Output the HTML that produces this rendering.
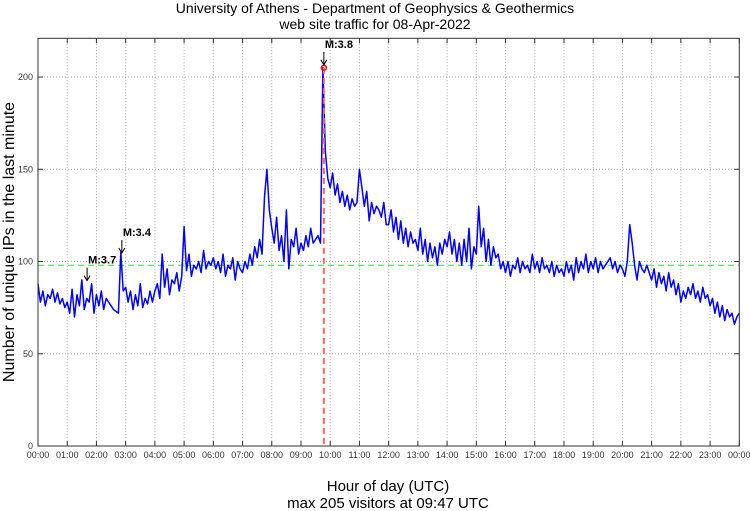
<!DOCTYPE html>
<html><head><meta charset="utf-8"><style>
body{margin:0;background:#fff;}
svg{display:block;font-family:"Liberation Sans",sans-serif;}
</style></head><body>
<svg id="chart" width="750" height="511" viewBox="0 0 750 511" xmlns="http://www.w3.org/2000/svg">
<rect width="750" height="511" fill="#fff"/>
<text x="375" y="13" font-size="14" text-anchor="middle" fill="#000">University of Athens - Department of Geophysics &amp; Geothermics</text>
<text x="375" y="29" font-size="14" text-anchor="middle" fill="#000">web site traffic for 08-Apr-2022</text>
<g id="grid"></g>
<g id="series"></g>
<g id="axes"></g>
<text x="388" y="491" font-size="15" text-anchor="middle" fill="#000">Hour of day (UTC)</text>
<text x="388" y="508" font-size="15" text-anchor="middle" fill="#000">max 205 visitors at 09:47 UTC</text>
<text transform="translate(14,242) rotate(-90)" font-size="16" text-anchor="middle" fill="#000">Number of unique IPs in the last minute</text>
</svg>
<script>
// data: visitors every 5 minutes (UTC), 288 samples + end
const values = [
88,78,84,76,82,80,85,78,83,77,80,75,
78,72,85,70,82,76,90,74,80,78,88,72,
82,76,84,74,80,78,76,74,73,72,105,84,
86,78,84,74,82,76,88,75,80,77,84,78,
84,88,80,104,86,96,82,90,88,94,84,92,
119,95,104,92,98,96,100,94,106,96,100,98,
102,96,100,94,104,92,98,96,102,90,100,96,
94,100,96,104,98,108,102,112,104,135,150,128,
118,110,124,106,114,100,128,96,112,108,118,104,
110,106,114,108,118,110,112,114,110,205,160,145,
140,148,136,142,132,138,130,136,128,134,130,132,
150,140,130,138,122,132,126,130,128,124,132,120,
120,128,116,124,112,122,110,118,108,116,110,112,
106,118,104,112,100,110,102,108,98,110,104,112,
108,116,104,112,100,110,98,112,100,118,96,108,
104,130,108,118,100,112,98,108,102,104,96,100,
94,100,92,98,96,102,94,100,96,98,94,104,
96,100,94,102,96,98,94,100,92,98,94,96,
92,100,94,98,90,102,94,100,96,104,94,100,
96,102,94,100,96,98,100,102,96,100,94,98,
96,92,100,120,110,98,90,100,96,94,98,94,
90,96,86,94,88,92,84,94,86,90,82,88,
78,84,80,86,82,88,80,84,78,86,80,82,
76,80,72,78,70,76,68,74,70,72,66,70,
72];
const stepMinutes = [5];
const yTicks = [0,50,100,150,200];
const xTickLabels = ["00:00","01:00","02:00","03:00","04:00","05:00","06:00","07:00","08:00","09:00","10:00","11:00","12:00","13:00","14:00","15:00","16:00","17:00","18:00","19:00","20:00","21:00","22:00","23:00","00:00"];
const meanLevel = [98];
const quakeTimes = [1.68, 2.87, 9.783];
const quakeLabels = ["M:3.7","M:3.4","M:3.8"];
const quakeValues = [88, 103, 205];

const L=38,R=739.3,T=38.3,B=446,YMAX=221;
const xs=h=>L+(R-L)*h/24;
const ys=v=>B-(B-T)*v/YMAX;
const NS="http://www.w3.org/2000/svg";
function mk(tag,attrs,parent){const e=document.createElementNS(NS,tag);for(const k in attrs)e.setAttribute(k,attrs[k]);parent.appendChild(e);return e;}
const grid=document.getElementById('grid'),axes=document.getElementById('axes'),series=document.getElementById('series');

xTickLabels.forEach((lab,i)=>{
  const x=xs(i);
  if(i>0&&i<24){const g=mk('line',{x1:x,x2:x,y1:T,y2:B,stroke:'#aaa','stroke-width':1,'stroke-dasharray':'1,2'},grid);
  
  }
  const t1=mk('line',{x1:x,x2:x,y1:B,y2:B-5,stroke:'#333'},axes);
  
  
  const t2=mk('line',{x1:x,x2:x,y1:T,y2:T+5,stroke:'#333'},axes);
  
  
  const tx=mk('text',{x:x,y:458,'font-size':9,'text-anchor':'middle',fill:'#333'},axes);
  tx.textContent=lab;
  
  
});
yTicks.forEach(v=>{
  const y=ys(v);
  if(v>0){const g=mk('line',{x1:L,x2:R,y1:y,y2:y,stroke:'#aaa','stroke-width':1,'stroke-dasharray':'1,2'},grid);
  
  }
  const t1=mk('line',{x1:L,x2:L+5,y1:y,y2:y,stroke:'#333'},axes);
  
  
  const t2=mk('line',{x1:R,x2:R-5,y1:y,y2:y,stroke:'#333'},axes);
  
  
  const tx=mk('text',{x:L-5,y:y+3,'font-size':9,'text-anchor':'end',fill:'#333'},axes);
  tx.textContent=v;
  
  
});
const frame=mk('rect',{x:L,y:T,width:R-L,height:B-T,fill:'none',stroke:'#333'},axes);



const ml=mk('line',{x1:L,x2:R,y1:ys(meanLevel[0]),y2:ys(meanLevel[0]),stroke:'#33dd33','stroke-dasharray':'6,4'},series);



let d='';
values.forEach((v,i)=>{const h=i*stepMinutes[0]/60;d+=(i?'L':'M')+xs(h).toFixed(1)+','+ys(v).toFixed(1);});
const p=mk('path',{d:d,fill:'none',stroke:'#0000ff','stroke-width':1.5,'stroke-linejoin':'round'},series);



const mx=xs(quakeTimes[2]);
const vl=mk('line',{x1:mx,x2:mx,y1:ys(quakeValues[2]),y2:B,stroke:'#ff6666','stroke-width':2,'stroke-dasharray':'6,4'},series);


const c=mk('circle',{cx:mx,cy:ys(quakeValues[2]),r:2.5,fill:'none',stroke:'#ff0000','stroke-width':1.5},series);



quakeTimes.forEach((h,i)=>{
  const x=xs(h),y=ys(quakeValues[i]);
  const a=mk('line',{x1:x,x2:x,y1:y-16,y2:y-4,stroke:'#000','stroke-width':1},series);
  
  
  const ah=mk('path',{d:`M${x-3},${y-8}L${x},${y-3}L${x+3},${y-8}`,fill:'none',stroke:'#000'},series);
  
  
  const t=mk('text',{x:x+1,y:y-20,'font-size':11,'font-weight':'bold',fill:'#000'},series);
  t.textContent=quakeLabels[i];
  
  
});
</script>
</body></html>
